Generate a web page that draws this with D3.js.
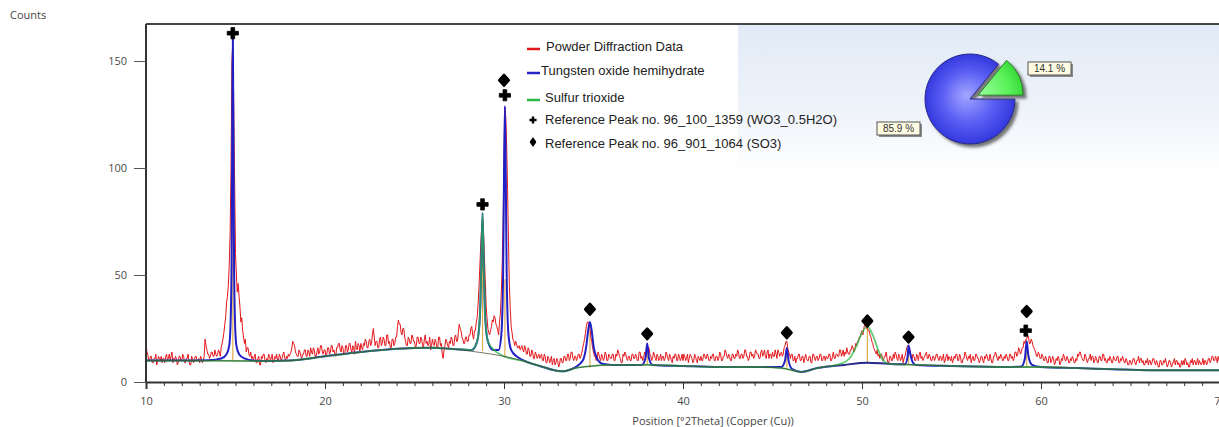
<!doctype html>
<html lang="en">

<head>
  <title>Powder diffraction pattern in D3</title>
  <meta charset="utf-8" />
  <script src="https://cdn.jsdelivr.net/npm/d3@7"></script>
  <style>
    body { margin: 0; background: #fff; }
    svg text { font-family: "Open Sans", "Noto Sans", sans-serif; }
    .legend text, .pie-label text { font-family: "Liberation Sans", Arial, sans-serif; }
  </style>
  <script>
    // measured scan: one count every 0.05 degree from 10 to 70 (one row per degree)
    const scanStart = 10;
    const scanStep = 0.05;
    const powderCounts = [
      18, 14, 13, 10, 10, 12, 12, 9, 9, 11, 11, 13, 8, 10, 12, 11, 10, 12, 9, 11,
      11, 9, 12, 13, 10, 11, 13, 10, 12, 14, 9, 11, 10, 12, 11, 8, 9, 12, 12, 10,
      10, 13, 12, 9, 9, 11, 11, 13, 10, 8, 8, 12, 11, 9, 10, 12, 12, 10, 10, 11,
      9, 12, 11, 9, 10, 12, 20, 17, 15, 13, 13, 11, 12, 14, 14, 12, 12, 15, 13, 12,
      13, 15, 14, 12, 16, 18, 20, 23, 27, 30, 37, 40, 45, 55, 70, 100, 150, 160, 130, 95,
      60, 50, 42, 46, 40, 35, 28, 30, 24, 21, 18, 20, 14, 16, 16, 13, 12, 14, 11, 12,
      10, 12, 13, 9, 9, 11, 12, 8, 8, 12, 11, 13, 13, 10, 9, 11, 10, 13, 12, 10,
      11, 13, 9, 10, 12, 11, 13, 10, 10, 13, 12, 10, 11, 13, 14, 11, 10, 12, 11, 13,
      12, 13, 14, 16, 19, 18, 17, 14, 13, 12, 12, 15, 14, 12, 11, 13, 13, 15, 15, 12,
      12, 15, 14, 12, 16, 14, 13, 16, 15, 12, 12, 14, 16, 13, 14, 17, 17, 14, 13, 15,
      15, 12, 13, 16, 16, 13, 14, 17, 17, 14, 15, 13, 12, 16, 16, 18, 18, 15, 14, 17,
      16, 13, 13, 17, 17, 14, 15, 18, 18, 15, 14, 17, 16, 13, 19, 16, 15, 18, 17, 14,
      18, 16, 15, 18, 17, 20, 19, 16, 16, 19, 20, 17, 18, 22, 25, 21, 17, 19, 19, 16,
      16, 20, 21, 17, 18, 21, 20, 17, 17, 22, 22, 18, 19, 16, 16, 20, 20, 17, 18, 21,
      21, 26, 29, 27, 27, 23, 22, 25, 25, 21, 19, 17, 17, 21, 20, 18, 18, 22, 21, 19,
      19, 16, 17, 21, 21, 18, 18, 21, 20, 17, 16, 20, 22, 18, 19, 17, 18, 21, 15, 17,
      20, 18, 17, 20, 19, 16, 16, 21, 21, 17, 18, 13, 11, 15, 17, 20, 19, 17, 16, 19,
      18, 21, 20, 17, 17, 21, 22, 19, 19, 23, 27, 25, 24, 21, 20, 18, 18, 21, 21, 19,
      19, 22, 22, 25, 26, 22, 20, 24, 24, 28, 30, 36, 44, 54, 64, 72, 76, 70, 60, 48,
      36, 30, 25, 23, 22, 24, 26, 29, 28, 31, 30, 27, 26, 24, 22, 28, 32, 42, 55, 75,
      105, 128, 124, 110, 90, 66, 45, 34, 26, 23, 20, 19, 17, 19, 18, 16, 16, 17, 15, 16,
      17, 15, 14, 17, 16, 13, 13, 16, 15, 12, 12, 15, 14, 11, 11, 14, 13, 11, 12, 13,
      11, 12, 13, 10, 10, 13, 12, 9, 9, 12, 11, 9, 10, 12, 8, 10, 11, 8, 9, 11,
      10, 7, 8, 11, 11, 9, 9, 12, 12, 10, 10, 13, 13, 10, 11, 14, 14, 11, 10, 12,
      12, 10, 11, 13, 13, 11, 12, 14, 16, 18, 20, 23, 26, 28, 28, 27, 25, 21, 19, 16,
      14, 12, 12, 10, 11, 14, 13, 11, 10, 13, 12, 10, 11, 14, 13, 10, 10, 13, 12, 11,
      11, 13, 13, 10, 10, 13, 12, 15, 14, 12, 11, 9, 9, 13, 12, 14, 13, 11, 10, 12,
      12, 10, 10, 13, 13, 11, 11, 13, 12, 10, 10, 14, 14, 11, 12, 10, 11, 14, 13, 12,
      18, 16, 16, 13, 12, 10, 11, 14, 13, 11, 10, 13, 12, 10, 11, 13, 10, 12, 12, 10,
      11, 14, 13, 11, 10, 13, 12, 10, 9, 12, 11, 13, 13, 10, 10, 13, 12, 10, 11, 13,
      10, 13, 12, 10, 11, 13, 9, 11, 13, 12, 11, 9, 10, 13, 12, 10, 9, 12, 11, 10,
      12, 10, 10, 13, 13, 11, 11, 13, 12, 10, 10, 12, 11, 13, 13, 10, 10, 12, 12, 10,
      11, 14, 13, 10, 10, 12, 12, 15, 14, 12, 11, 13, 12, 10, 10, 13, 13, 11, 11, 13,
      12, 15, 14, 11, 11, 13, 13, 11, 12, 15, 15, 12, 12, 10, 11, 14, 14, 12, 13, 11,
      12, 15, 14, 13, 13, 11, 11, 14, 15, 12, 13, 15, 12, 11, 14, 15, 11, 13, 13, 11,
      14, 12, 12, 15, 13, 11, 15, 14, 12, 13, 14, 12, 13, 16, 17, 19, 19, 16, 14, 13,
      11, 13, 13, 10, 10, 12, 9, 11, 11, 13, 13, 10, 10, 12, 12, 9, 11, 13, 11, 10,
      10, 12, 12, 9, 9, 13, 13, 11, 10, 12, 12, 10, 11, 13, 13, 10, 10, 12, 12, 10,
      12, 11, 11, 13, 13, 10, 10, 12, 14, 11, 11, 13, 13, 12, 12, 15, 15, 12, 13, 15,
      12, 14, 13, 16, 14, 13, 13, 15, 15, 17, 16, 14, 15, 18, 17, 19, 19, 21, 21, 23,
      24, 22, 25, 27, 27, 25, 26, 24, 24, 22, 21, 19, 18, 16, 15, 14, 13, 15, 12, 13,
      11, 13, 13, 10, 10, 12, 12, 14, 11, 9, 9, 12, 12, 10, 10, 13, 11, 14, 13, 11,
      10, 13, 12, 10, 11, 13, 9, 11, 12, 14, 16, 17, 17, 15, 14, 12, 11, 13, 12, 10,
      10, 13, 12, 10, 13, 14, 11, 12, 10, 11, 12, 13, 14, 11, 11, 13, 12, 10, 10, 12,
      12, 10, 11, 13, 13, 11, 10, 12, 12, 10, 11, 13, 9, 10, 12, 13, 10, 12, 11, 10,
      12, 9, 10, 12, 11, 13, 13, 10, 10, 13, 12, 9, 9, 11, 11, 14, 13, 11, 10, 12,
      11, 13, 9, 11, 12, 10, 10, 13, 13, 11, 11, 9, 10, 12, 12, 10, 9, 12, 11, 13,
      12, 10, 10, 13, 11, 9, 9, 12, 12, 14, 13, 11, 10, 12, 11, 13, 12, 10, 10, 12,
      11, 13, 12, 10, 10, 13, 13, 11, 12, 10, 11, 14, 14, 12, 13, 16, 15, 13, 14, 16,
      16, 19, 18, 20, 20, 22, 21, 18, 18, 20, 19, 17, 16, 15, 14, 12, 12, 14, 13, 11,
      11, 13, 12, 10, 10, 12, 11, 9, 9, 12, 12, 9, 10, 12, 11, 8, 9, 11, 10, 12,
      11, 8, 9, 11, 10, 13, 12, 10, 10, 12, 11, 9, 9, 11, 10, 12, 11, 9, 9, 11,
      10, 13, 12, 14, 14, 12, 11, 10, 10, 13, 12, 10, 9, 11, 11, 13, 10, 12, 12, 9,
      10, 12, 11, 9, 9, 12, 12, 10, 10, 13, 13, 10, 11, 9, 9, 11, 10, 12, 11, 9,
      9, 12, 11, 10, 10, 12, 12, 9, 9, 11, 10, 12, 11, 9, 9, 11, 10, 8, 8, 10,
      10, 8, 9, 11, 11, 9, 8, 10, 10, 12, 9, 11, 11, 9, 10, 8, 8, 10, 9, 11,
      8, 10, 10, 8, 9, 11, 11, 9, 8, 10, 9, 7, 7, 10, 10, 8, 8, 10, 9, 11,
      9, 7, 8, 10, 10, 8, 7, 9, 9, 11, 8, 10, 10, 8, 9, 7, 7, 10, 8, 10,
      8, 11, 10, 8, 9, 7, 7, 10, 9, 11, 8, 10, 10, 8, 9, 11, 8, 10, 9, 8,
      9, 11, 8, 10, 10, 8, 9, 11, 11, 9, 10, 12, 12, 10, 10, 12, 11, 9, 12, 10,
      11
    ];

    // fitted background [2theta, counts]
    const backgroundFit = [
      [10, 10], [13, 10], [16, 9.8], [18, 10], [20, 12], [22, 14], [24, 15.5], [26, 16],
      [27, 15.5], [28.5, 14], [30, 12], [31, 10], [32, 7.5], [33.2, 5], [34, 6.5], [35, 7.5],
      [36, 8], [38, 8], [40, 7.5], [42, 7], [44, 7], [45.5, 6.5], [46.6, 4.7], [47.5, 6.5],
      [49, 8], [50.3, 9], [51.5, 8.5], [53, 8], [55, 7.5], [58, 7], [60, 7], [62, 6.5],
      [64, 6], [66, 5.5], [68, 5.5], [70, 5.5]
    ];

    // tungsten oxide hemihydrate profile
    const tungstenFit = [
      [10, 10], [12, 10], [13.5, 10.2], [14.2, 11], [14.5, 13], [14.65, 17], [14.72, 26],
      [14.78, 55], [14.82, 120], [14.85, 162], [14.88, 120], [14.92, 55], [14.98, 26],
      [15.05, 17], [15.2, 13], [15.5, 11], [16, 10], [17, 9.8], [18, 10], [20, 12], [22, 14],
      [24, 15.5], [26, 16], [27, 15.5], [28.2, 15], [28.5, 19], [28.65, 30], [28.72, 50],
      [28.8, 79], [28.88, 50], [28.95, 30], [29.1, 19], [29.4, 15], [29.7, 15], [29.85, 22],
      [29.95, 50], [30, 95], [30.05, 129], [30.1, 95], [30.15, 50], [30.25, 22], [30.4, 15],
      [30.7, 12], [31, 10.5], [32, 7.5], [33.2, 5], [34, 7], [34.4, 10], [34.6, 17],
      [34.7, 24], [34.8, 28], [34.9, 24], [35, 17], [35.2, 11], [35.5, 8.5], [36, 8],
      [37.7, 8], [37.9, 11], [38, 18], [38.1, 11], [38.3, 8], [40, 7.5], [42, 7], [44, 7],
      [45.5, 7], [45.7, 10], [45.8, 16], [45.9, 10], [46.1, 6], [46.6, 4.7], [47.5, 6.5],
      [49, 8], [50.3, 9], [51.5, 8.5], [52.4, 8.3], [52.55, 12], [52.6, 17], [52.7, 13],
      [52.85, 9], [53, 8], [55, 7.5], [58, 7], [58.9, 7.2], [59.1, 11], [59.2, 19],
      [59.3, 12], [59.5, 8], [60, 7], [62, 6.5], [64, 6], [66, 5.5], [68, 5.5], [70, 5.5]
    ];

    // sulfur trioxide profile
    const sulfurFit = [
      [10, 10], [13, 10], [16, 9.8], [18, 10], [20, 12], [22, 14], [24, 15.5], [26, 16],
      [27, 15.5], [28.2, 15], [28.5, 19], [28.65, 30], [28.72, 50], [28.8, 79], [28.88, 50],
      [28.95, 30], [29.1, 19], [29.5, 14.5], [30, 12], [31, 10], [32, 7.5], [33.2, 5],
      [34, 6.5], [35, 7.5], [36, 8], [38, 8], [40, 7.5], [42, 7], [44, 7], [45.5, 6.5],
      [46.6, 4.7], [47.5, 6.5], [48.8, 8.5], [49.3, 11], [49.7, 17], [50, 23], [50.3, 26],
      [50.6, 22], [50.9, 15], [51.2, 10], [51.5, 8.5], [53, 8], [55, 7.5], [58, 7], [60, 7],
      [62, 6.5], [64, 6], [66, 5.5], [68, 5.5], [70, 5.5]
    ];

    // peak position sticks
    const stickPositions = [14.85, 28.8, 30.05, 34.8, 38.0, 45.8, 50.3, 52.6, 59.2];
    const stickBase = [10, 14.5, 12, 6.8, 8, 6.8, 9, 8.2, 7];
    const stickTop = [120, 60, 48, 24, 15, 14, 25, 14, 16];

    // reference peak markers
    const wo3Positions = [14.85, 28.8, 30.05, 59.15];
    const wo3MarkerCounts = [163, 83, 134, 24];
    const so3Positions = [30.0, 34.8, 38.0, 45.8, 50.3, 52.6, 59.2];
    const so3MarkerCounts = [141, 34, 22.5, 23, 28.5, 21, 33];

    const xTicks = [10, 20, 30, 40, 50, 60, 70];
    const yTicks = [0, 50, 100, 150];

    const phaseNames = ["Tungsten oxide hemihydrate", "Sulfur trioxide"];
    const phaseShares = [85.9, 14.1];

    const legendItems = [
      { label: "Powder Diffraction Data", kind: "line", color: "#e3161b" },
      { label: "Tungsten oxide hemihydrate", kind: "line", color: "#2424c8" },
      { label: "Sulfur trioxide", kind: "line", color: "#2fb84a" },
      { label: "Reference Peak no. 96_100_1359 (WO3_0.5H2O)", kind: "cross" },
      { label: "Reference Peak no. 96_901_1064 (SO3)", kind: "diamond" }
    ];

    window.onload = () => {
      const w = 1219;
      const h = 427;
      const left = 146, top = 24, bottom = 382, right = 1220;

      const svg = d3.select("#chart").attr("width", w).attr("height", h);
      const defs = svg.append("defs");

      const x = d3.scaleLinear().domain([10, 70]).range([left, right]);
      const y = d3.scaleLinear().domain([0, 167.3]).range([bottom, top]);

      // pale panel behind the pie
      const panelGrad = defs.append("linearGradient").attr("id", "panel-grad")
        .attr("x1", 0).attr("y1", 0).attr("x2", 0).attr("y2", 1);
      panelGrad.append("stop").attr("offset", "0%").attr("stop-color", "#e1eaf6");
      panelGrad.append("stop").attr("offset", "55%").attr("stop-color", "#eef3fa");
      panelGrad.append("stop").attr("offset", "100%").attr("stop-color", "#ffffff");
      svg.append("rect")
        .attr("x", 738).attr("y", top)
        .attr("width", w - 738).attr("height", 150)
        .style("fill", "url(#panel-grad)");

      defs.append("clipPath").attr("id", "plot-clip")
        .append("rect").attr("x", left).attr("y", top)
        .attr("width", right - left).attr("height", bottom - top);

      const plot = svg.append("g").attr("clip-path", "url(#plot-clip)");

      // peak sticks
      plot.selectAll(".stick")
        .data(stickPositions)
        .enter()
        .append("line")
        .attr("x1", d => x(d)).attr("x2", d => x(d))
        .attr("y1", (d, i) => y(stickBase[i]))
        .attr("y2", (d, i) => y(stickTop[i]))
        .style("stroke", "#e0ad4c")
        .style("stroke-width", 1.2);

      const scanLine = d3.line()
        .x((d, i) => x(scanStart + i * scanStep))
        .y(d => y(d));

      plot.append("path")
        .datum(powderCounts)
        .attr("d", scanLine)
        .style("fill", "none")
        .style("stroke", "#e3161b")
        .style("stroke-width", 1);

      const fitLine = d3.line()
        .x(d => x(d[0]))
        .y(d => y(d[1]))
        .curve(d3.curveMonotoneX);

      plot.append("path")
        .datum(tungstenFit)
        .attr("d", fitLine)
        .style("fill", "none")
        .style("stroke", "#2020c4")
        .style("stroke-width", 2);

      plot.append("path")
        .datum(sulfurFit)
        .attr("d", fitLine)
        .style("fill", "none")
        .style("stroke", "#2fb84a")
        .style("stroke-opacity", 0.75)
        .style("stroke-width", 1.8);

      plot.append("path")
        .datum(backgroundFit)
        .attr("d", fitLine)
        .style("fill", "none")
        .style("stroke", "#3d3d28")
        .style("stroke-opacity", 0.7)
        .style("stroke-width", 1);

      // reference peak markers
      const cross = d3.symbol().type(d3.symbolCross).size(70);
      const square = d3.symbol().type(d3.symbolSquare).size(44);

      svg.selectAll(".wo3")
        .data(wo3Positions)
        .enter()
        .append("path")
        .attr("d", cross)
        .attr("transform", (d, i) => "translate(" + x(d) + "," + y(wo3MarkerCounts[i]) + ")")
        .style("fill", "#000")
        .style("stroke", "#000")
        .style("stroke-width", 0.8)
        .style("stroke-linejoin", "round");

      svg.selectAll(".so3")
        .data(so3Positions)
        .enter()
        .append("path")
        .attr("d", square)
        .attr("transform", (d, i) => "translate(" + x(d) + "," + y(so3MarkerCounts[i]) + ") scale(1,1.1) rotate(45)")
        .style("fill", "#000")
        .style("stroke", "#000")
        .style("stroke-width", 2.6)
        .style("stroke-linejoin", "round");

      // frame
      svg.append("line")
        .attr("x1", left).attr("x2", w).attr("y1", top).attr("y2", top)
        .style("stroke", "#444").style("stroke-width", 2);

      // x axis
      const xAxis = svg.append("g")
        .attr("transform", "translate(0," + bottom + ")")
        .call(d3.axisBottom(x).tickValues(xTicks).tickSize(7).tickPadding(8).tickFormat(d3.format("d")));
      svg.append("g")
        .attr("transform", "translate(0," + bottom + ")")
        .call(d3.axisBottom(x).tickValues(d3.range(10, 71, 1)).tickSize(4).tickFormat(""))
        .call(g => g.select(".domain").remove())
        .selectAll("line").style("stroke", "#333");
      xAxis.select(".domain").style("stroke", "#333").style("stroke-width", 2);
      xAxis.selectAll("line").style("stroke", "#333");
      xAxis.selectAll("text").style("font-size", "11px").style("fill", "#4a4a4a");

      // y axis
      const yAxis = svg.append("g")
        .attr("transform", "translate(" + left + ",0)")
        .call(d3.axisLeft(y).tickValues(yTicks).tickSize(12).tickPadding(7));
      yAxis.select(".domain").attr("d", "M0," + top + "V" + bottom).style("stroke", "#333").style("stroke-width", 2);
      yAxis.selectAll("line").style("stroke", "#555");
      yAxis.selectAll("text").style("font-size", "11px").style("fill", "#4a4a4a");

      svg.append("text")
        .text("Counts")
        .attr("x", 10).attr("y", 19)
        .style("font-size", "11px")
        .style("fill", "#444");

      svg.append("text")
        .text("Position [°2Theta] (Copper (Cu))")
        .attr("x", 713).attr("y", 425)
        .attr("text-anchor", "middle")
        .style("font-size", "11px")
        .style("fill", "#444");

      // legend
      const legendY = [47, 71, 98, 120, 144];
      const legend = svg.append("g").attr("class", "legend");
      const rows = legend.selectAll("g")
        .data(legendItems)
        .enter()
        .append("g")
        .attr("transform", (d, i) => "translate(527," + legendY[i] + ")");

      rows.filter(d => d.kind === "line")
        .append("line")
        .attr("x1", 0).attr("x2", 13).attr("y1", 2).attr("y2", 2)
        .style("stroke", d => d.color)
        .style("stroke-width", 2.5);
      rows.filter(d => d.kind === "cross")
        .append("path")
        .attr("d", d3.symbol().type(d3.symbolCross).size(28))
        .attr("transform", "translate(6,0)")
        .style("fill", "#000");
      rows.filter(d => d.kind === "diamond")
        .append("path")
        .attr("d", d3.symbol().type(d3.symbolSquare).size(12))
        .attr("transform", "translate(6,-2) scale(1,1.4) rotate(45)")
        .style("fill", "#000")
        .style("stroke", "#000")
        .style("stroke-width", 1.5)
        .style("stroke-linejoin", "round");

      rows.append("text")
        .text(d => d.label)
        .attr("x", (d, i) => i === 0 ? 19 : i === 1 ? 14 : 18)
        .attr("y", 4)
        .style("font-size", "13px")
        .style("fill", "#222");

      // phase pie
      const shadow = defs.append("filter").attr("id", "pie-shadow")
        .attr("x", "-20%").attr("y", "-20%").attr("width", "150%").attr("height", "150%");
      shadow.append("feDropShadow")
        .attr("dx", 3).attr("dy", 3).attr("stdDeviation", 1.5)
        .attr("flood-color", "#555").attr("flood-opacity", 0.8);

      const blueGrad = defs.append("radialGradient").attr("id", "blue-grad")
        .attr("gradientUnits", "userSpaceOnUse")
        .attr("cx", 0).attr("cy", 0).attr("r", 46).attr("fx", -4).attr("fy", -4);
      blueGrad.append("stop").attr("offset", "0%").attr("stop-color", "#a3a6ff");
      blueGrad.append("stop").attr("offset", "55%").attr("stop-color", "#5c60f4");
      blueGrad.append("stop").attr("offset", "100%").attr("stop-color", "#3236dc");

      const greenGrad = defs.append("radialGradient").attr("id", "green-grad")
        .attr("gradientUnits", "userSpaceOnUse")
        .attr("cx", 0).attr("cy", 0).attr("r", 46);
      greenGrad.append("stop").attr("offset", "0%").attr("stop-color", "#9cff9c");
      greenGrad.append("stop").attr("offset", "70%").attr("stop-color", "#58f058");
      greenGrad.append("stop").attr("offset", "100%").attr("stop-color", "#36d836");

      const pie = d3.pie().sort(null).startAngle(Math.PI / 2).endAngle(Math.PI / 2 + 2 * Math.PI);
      const arc = d3.arc().innerRadius(0).outerRadius(45);
      const slices = pie(phaseShares);
      const pieG = svg.append("g").attr("transform", "translate(970,99)");
      pieG.selectAll("path")
        .data(slices)
        .enter()
        .append("path")
        .attr("d", arc)
        .attr("transform", (d, i) => {
          if (i === 0) return null;
          const mid = (d.startAngle + d.endAngle) / 2;
          return "translate(" + 9 * Math.sin(mid) + "," + (-9 * Math.cos(mid)) + ")";
        })
        .attr("filter", "url(#pie-shadow)")
        .style("fill", (d, i) => i === 0 ? "url(#blue-grad)" : "url(#green-grad)")
        .style("stroke", (d, i) => i === 0 ? "#23268a" : "#2a7a2a")
        .style("stroke-width", 1);

      const pieLabels = [
        { text: phaseShares[1].toFixed(1) + " %", x: 1028, y: 62 },
        { text: phaseShares[0].toFixed(1) + " %", x: 877, y: 122 }
      ];
      const tags = svg.selectAll(".pie-label")
        .data(pieLabels)
        .enter()
        .append("g")
        .attr("class", "pie-label")
        .attr("transform", d => "translate(" + d.x + "," + d.y + ")");
      tags.append("rect")
        .attr("x", 2).attr("y", 2).attr("width", 43).attr("height", 13)
        .style("fill", "#8a8a8a");
      tags.append("rect")
        .attr("width", 43).attr("height", 13)
        .style("fill", "#fdfbe2")
        .style("stroke", "#555")
        .style("stroke-width", 1);
      tags.append("text")
        .text(d => d.text)
        .attr("x", 21.5).attr("y", 10)
        .attr("text-anchor", "middle")
        .style("font-size", "10px")
        .style("fill", "#333");
    }
  </script>
</head>

<body>
  <svg id="chart"></svg>
</body>

</html>
